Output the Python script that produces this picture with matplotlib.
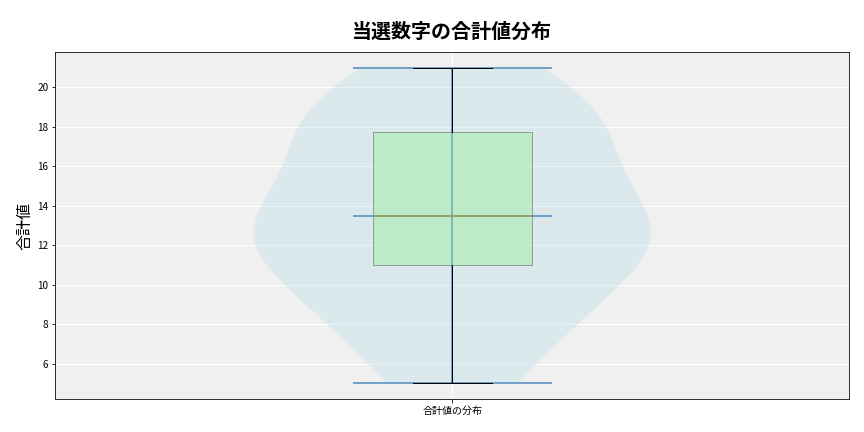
import numpy as np
import matplotlib
matplotlib.use("Agg")
from matplotlib import pyplot as plt

plt.rcParams['font.family'] = ['Noto Sans CJK JP', 'DejaVu Sans']

# Sum of winning numbers per draw
sums = [5, 7, 8, 9, 11, 11, 12, 12, 13, 14, 14, 14, 17, 18, 18, 19, 19, 21]
label = "合計値の分布"

fig = plt.figure(figsize=(12, 6), dpi=72)
ax = fig.add_axes([0.064, 0.076, 0.919, 0.804])
ax.set_facecolor("#f0f0f0")

# Violin first, then box on top
vp = ax.violinplot([sums], positions=[1], showmedians=True)
for body in vp['bodies']:
    body.set_facecolor('lightblue')
    body.set_edgecolor('none')
    body.set_alpha(0.3)
for part in ('cbars', 'cmins', 'cmaxes', 'cmedians'):
    vp[part].set_color('#4a88bc')
    vp[part].set_linewidth(1.5)

bp = ax.boxplot([sums], positions=[1], widths=0.2, patch_artist=True,
                medianprops=dict(color='#a09a5a', linewidth=1.5))
for box in bp['boxes']:
    box.set_facecolor('lightgreen')
    box.set_edgecolor('#333333')
    box.set_alpha(0.4)

ax.set_xticks([1])
ax.set_xticklabels([label], fontsize=10)
ax.tick_params(axis='y', labelsize=10)
ax.set_xlim(0.5, 1.5)
ax.grid(True, color='white', linewidth=1)
ax.set_axisbelow(True)
ax.set_ylabel("合計値", fontsize=16)
ax.set_title("当選数字の合計値分布", fontsize=20, fontweight='bold', pad=14)

fig.savefig("out.png")
